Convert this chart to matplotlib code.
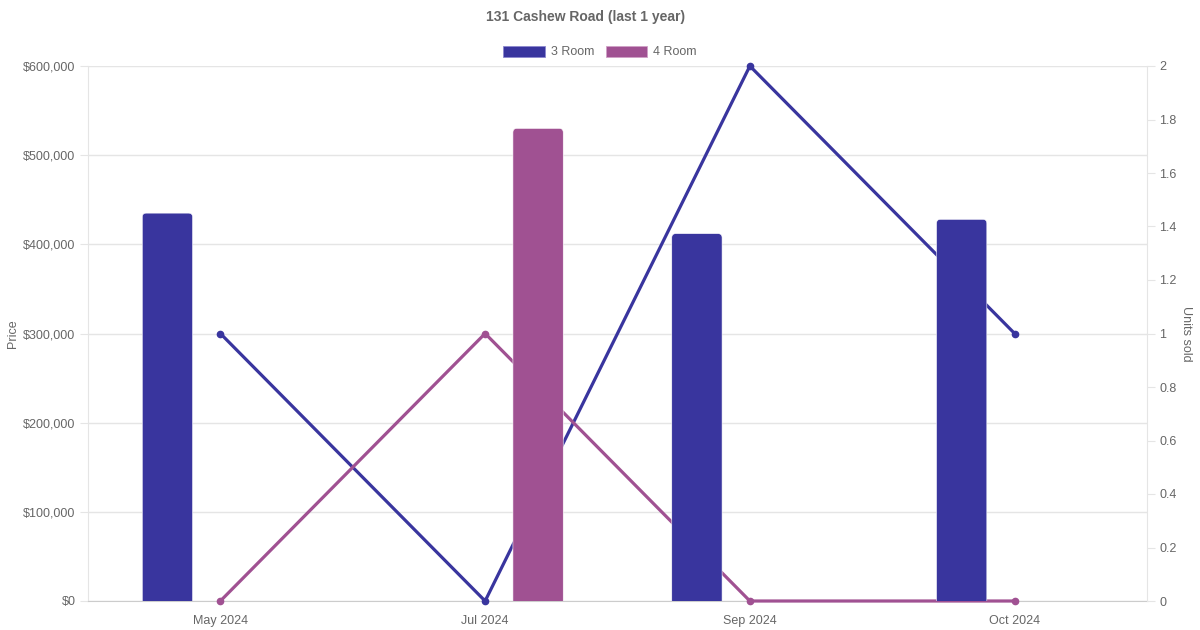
import numpy as np
import matplotlib.pyplot as plt
from matplotlib.patches import FancyBboxPatch, Patch
from matplotlib.ticker import FuncFormatter

# datos
meses = ['May 2024', 'Jul 2024', 'Sep 2024', 'Oct 2024']
precio_3room = [435000, np.nan, 412000, 428000]
precio_4room = [np.nan, 530000, np.nan, np.nan]
unidades_3room = [1, 0, 2, 1]
unidades_4room = [0, 1, 0, 0]

azul = '#39359e'
morado = '#a05192'
gris_txt = '#666666'
gris_grid = '#e5e5e5'

plt.rcParams['font.family'] = ['Liberation Sans', 'DejaVu Sans']

fig = plt.figure(figsize=(12, 6.3), dpi=100)
ax = fig.add_axes([88/1200, 1 - 601/630, (1147-88)/1200, (601-66)/630])
ax2 = ax.twinx()   # unidades (lineas)
ax3 = ax.twinx()   # barras encima de todo

x = np.arange(len(meses))

# eje de precio (izquierda) con rejilla
ax.set_xlim(-0.5, len(meses) - 0.5)
ax.set_ylim(0, 600000)
ax.set_yticks(np.arange(0, 600001, 100000))
ax.yaxis.set_major_formatter(FuncFormatter(lambda v, p: f'${v:,.0f}'))
ax.grid(axis='y', color=gris_grid, linewidth=1)
ax.set_axisbelow(True)
ax.set_xticks(x)
ax.set_xticklabels(meses)
ax.tick_params(axis='x', length=0, pad=10, labelsize=9, labelcolor=gris_txt)
ax.tick_params(axis='y', length=6, color=gris_grid, pad=3, labelsize=9, labelcolor=gris_txt)
ax.set_ylabel('Price', color=gris_txt, fontsize=9, labelpad=3)
for s in ['top', 'right']:
    ax.spines[s].set_visible(False)
ax.spines['left'].set_color(gris_grid)
ax.spines['bottom'].set_color('#cccccc')

# eje de unidades (derecha)
ax2.plot(x, unidades_3room, color=azul, linewidth=2.3, marker='o', markersize=4.5, clip_on=False)
ax2.plot(x, unidades_4room, color=morado, linewidth=2.3, marker='o', markersize=4.5, clip_on=False)
ax2.set_ylim(0, 2)
ax2.set_yticks(np.arange(0, 2.01, 0.2))
ax2.yaxis.set_major_formatter(FuncFormatter(lambda v, p: f'{round(v, 1):g}'))
ax2.tick_params(axis='y', length=6, color=gris_grid, pad=3, labelsize=9, labelcolor=gris_txt)
ax2.set_ylabel('Units sold', color=gris_txt, fontsize=9, rotation=270, labelpad=11)
for s in ['top', 'left', 'bottom']:
    ax2.spines[s].set_visible(False)
ax2.spines['right'].set_color(gris_grid)

# barras con esquinas redondeadas
ax3.set_ylim(ax.get_ylim())
ax3.set_xlim(ax.get_xlim())
ax3.axis('off')
fig.canvas.draw()
px_x = ax3.transData.transform((1, 0))[0] - ax3.transData.transform((0, 0))[0]
px_y = ax3.transData.transform((0, 1))[1] - ax3.transData.transform((0, 0))[1]
radio = 4 / px_x
aspecto = px_x / px_y

ancho = 0.19
desp = 0.2
for serie, col, d in [(precio_3room, azul, -desp), (precio_4room, morado, desp)]:
    barras = ax3.bar(x + d, serie, width=ancho, color=col)
    for r, v in zip(barras, serie):
        r.set_visible(False)
        if np.isnan(v):
            continue
        bx, _ = r.get_xy()
        p = FancyBboxPatch((bx, -8000), r.get_width(), v + 8000,
                           boxstyle=f'round,pad=0,rounding_size={radio}',
                           mutation_aspect=aspecto, facecolor=col,
                           edgecolor='#ffffff', linewidth=0.4)
        ax3.add_patch(p)

fig.text(586/1200, 1 - 17/630, '131 Cashew Road (last 1 year)', ha='center', va='center',
         fontsize=10, fontweight='bold', color=gris_txt)
handles = [Patch(facecolor=azul, edgecolor='#8c88cf', linewidth=0.6, label='3 Room'),
           Patch(facecolor=morado, edgecolor='#cfa0c6', linewidth=0.6, label='4 Room')]
fig.legend(handles=handles, loc='center', bbox_to_anchor=(0.5, 1 - 52/630), ncol=2,
           frameon=False, fontsize=9, labelcolor=gris_txt, handlelength=3.3,
           handleheight=1.0, handletextpad=0.5, columnspacing=0.9, borderpad=0)

plt.savefig('out.png', dpi=100)
